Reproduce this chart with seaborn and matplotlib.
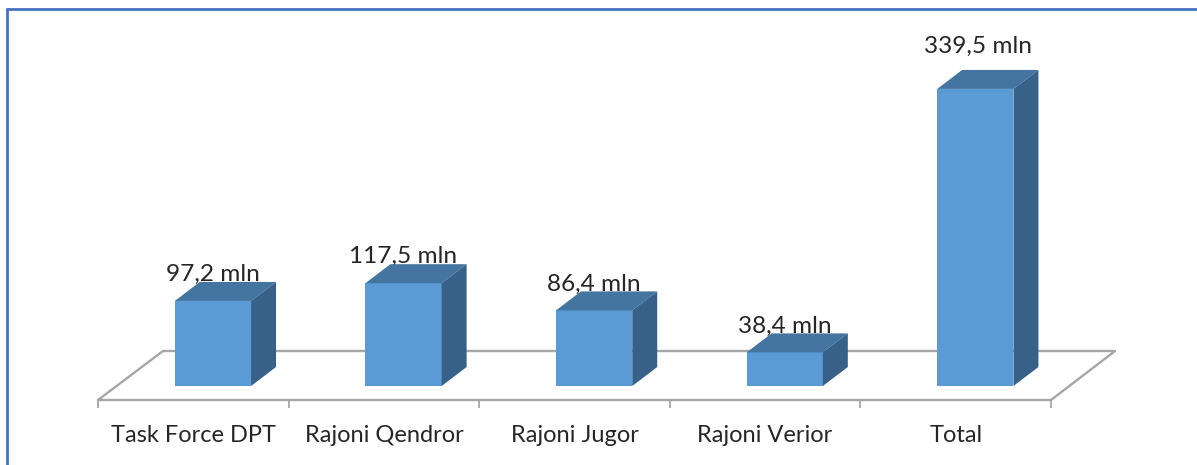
from matplotlib.lines import Line2D
from matplotlib.patches import Polygon
import matplotlib.pyplot as plt
import seaborn as sns
import numpy as np

categories = ["Task Force DPT", "Rajoni Qendror", "Rajoni Jugor", "Rajoni Verior", "Total"]
values = [97.2, 117.5, 86.4, 38.4, 339.5]
value_labels = ["97,2 mln", "117,5 mln", "86,4 mln", "38,4 mln", "339,5 mln"]

sns.set_theme(style="white")
plt.rcParams['font.family'] = ['Lato', 'DejaVu Sans']

FRONT = "#5b9bd5"
TOP = "#4475a0"
SIDE = "#376188"
GREY = "#a6a6a6"
TEXT = "#262626"
BORDER = "#4472c4"

# fake 3d depth, in slots / value units
depth_x = 0.131
depth_y = 21.7
shift = 0.103

fig = plt.figure(figsize=(11.97, 4.65), dpi=100)
ax = fig.add_axes([98 / 1197, 65 / 465, 953 / 1197, 390 / 465])

sns.barplot(x=categories, y=values, color=FRONT, saturation=1, width=0.4,
            linewidth=0, ax=ax, zorder=3)

ax.set_xlim(-0.5 - shift, 4.5 - shift)
ax.set_ylim(-16, 429.7)
sns.despine(ax=ax, left=True, top=True, right=True, bottom=True)
ax.set_yticks([])

# category names sit in the middle of each slot, ticks on the slot edges
ax.set_xticks(np.arange(5) - shift, categories, fontsize=17, color=TEXT)
ax.set_xticks(np.arange(6) - 0.5 - shift, minor=True)
ax.tick_params(axis="x", which="major", length=0, pad=18)
ax.tick_params(axis="x", which="minor", bottom=True, length=6, width=1.3, color=GREY)

# floor of the chart
x0, x1 = ax.get_xlim()
floor = [(x0, -16), (x0 + 0.341, 40), (x1 + 0.336, 40), (x1, -16), (x0, -16)]
ax.add_line(Line2D(*zip(*floor), color=GREY, lw=1.7, clip_on=False, zorder=1))

# top and side faces of every bar
for bar, val, lab in zip(ax.patches, values, value_labels):
    left = bar.get_x()
    right = left + bar.get_width()
    ax.add_patch(Polygon([(left, val), (left + depth_x, val + depth_y),
                          (right + depth_x, val + depth_y), (right, val)],
                         facecolor=TOP, edgecolor="none", zorder=3))
    ax.add_patch(Polygon([(right, 0), (right + depth_x, depth_y),
                          (right + depth_x, val + depth_y), (right, val)],
                         facecolor=SIDE, edgecolor="none", zorder=3))
    off = 31 if lab.startswith("339") else 19
    dx = 2 if lab.startswith("339") else 0
    ax.annotate(lab, (left + bar.get_width() / 2, val), xytext=(dx, off),
                textcoords="offset points", ha="center", va="center",
                fontsize=17.6, color=TEXT, zorder=2)

# frame around the picture, only top and left
fig.add_artist(Line2D([7 / 1197, 1], [456 / 465, 456 / 465], color=BORDER, lw=2))
fig.add_artist(Line2D([7 / 1197, 7 / 1197], [0, 456 / 465], color=BORDER, lw=2))

fig.savefig("out.png", dpi=100)
